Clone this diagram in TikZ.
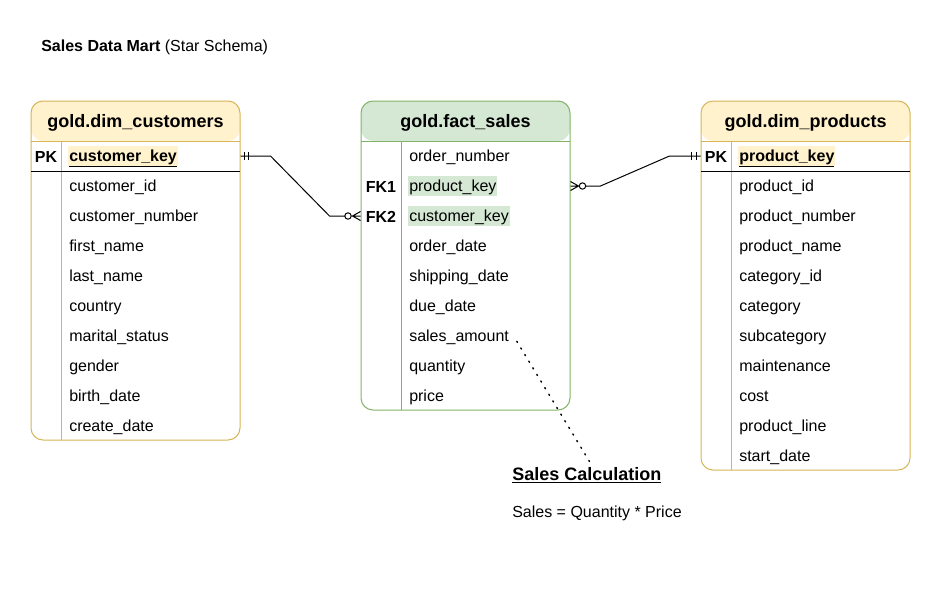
\documentclass[tikz,border=0pt]{standalone}
\usepackage{fontspec}
\setmainfont{Liberation Sans}
\usetikzlibrary{calc, positioning}
\definecolor{dimfill}{HTML}{FFF2CC}
\definecolor{dimline}{HTML}{D6B656}
\definecolor{factfill}{HTML}{D5E8D4}
\definecolor{factline}{HTML}{82B366}
\tikzset{%
    x=0.75pt, y=-0.75pt,
    dimtbl/.style={draw=dimline, line width=0.75pt, rounded corners=9pt, inner sep=0pt,
        path picture={\fill[dimfill] (path picture bounding box.north west) rectangle ([yshift=-30pt]path picture bounding box.north east);}},
    facttbl/.style={dimtbl, draw=factline,
        path picture={\fill[factfill] (path picture bounding box.north west) rectangle ([yshift=-30pt]path picture bounding box.north east);}},
    hdr/.style={font=\fontsize{13.5}{16}\selectfont\bfseries, inner sep=0pt},
    fld/.style={anchor=west, inner xsep=0.75pt, inner ysep=1.5pt, text height=10pt, text depth=2pt, font=\fontsize{12}{14}\selectfont},
    key/.style={font=\fontsize{12}{14}\selectfont\bfseries, inner sep=0pt},
    sep/.style={line width=0.75pt},
    rel/.style={line width=0.75pt},
    note/.style={line width=1.1pt, dash pattern=on 0.9pt off 4.9pt, line cap=round},
}
\begin{document}
\begin{tikzpicture}
    \fill[white] (0,0) rectangle (941,603);
    \useasboundingbox (0,0) rectangle (941,603);
    \node[anchor=west, font=\fontsize{12}{14}\selectfont, inner sep=0pt] (title) at (41,47) {\textbf{Sales Data Mart} (Star Schema)};
    % tables
    \node[dimtbl, minimum width=156.75pt, minimum height=254.25pt] (cust) at (135.5,270.5) {};
    \node[facttbl, minimum width=156.75pt, minimum height=231.75pt] (fact) at (465.5,255.5) {};
    \node[dimtbl, minimum width=156.75pt, minimum height=276.75pt] (prod) at (805.5,285.5) {};
    \draw[sep, dimline] (31,141) -- (240,141) (61,141) -- (61,440);
    \draw[sep, factline] (361,141) -- (570,141) (401,141) -- (401,410);
    \draw[sep, dimline] (701,141) -- (910,141) (731,141) -- (731,470);
    \draw[sep] (31,171) -- (240,171);
    \draw[sep] (701,171) -- (910,171);
    \node[hdr] (custh) at (135.5,123) {gold.dim\_customers};
    \node[hdr] (facth) at (465.5,123) {gold.fact\_sales};
    \node[hdr] (prodh) at (805.5,123) {gold.dim\_products};
    % customers
    \node[key] at (46,156.5) {PK};
    \node[fld, fill=dimfill, font=\fontsize{12}{14}\selectfont\bfseries] (ck) at (68,156) {\underline{customer\_key}};
    \foreach \f [count=\i] in {customer\_id, customer\_number, first\_name, last\_name, country,
        marital\_status, gender, birth\_date, create\_date}
        \node[fld] (c\i) at (68,156+30*\i) {\f};
    % fact
    \node[fld] (f1) at (408,156) {order\_number};
    \node[key] at (381,186.5) {FK1};
    \node[fld, fill=factfill] (fk1) at (408,186) {product\_key};
    \node[key] at (381,216.5) {FK2};
    \node[fld, fill=factfill] (fk2) at (408,216) {customer\_key};
    \foreach \f [count=\i from 4] in {order\_date, shipping\_date, due\_date, sales\_amount, quantity, price}
        \node[fld] (f\i) at (408,126+30*\i) {\f};
    % products
    \node[key] at (716,156.5) {PK};
    \node[fld, fill=dimfill, font=\fontsize{12}{14}\selectfont\bfseries] (pk) at (738,156) {\underline{product\_key}};
    \foreach \f [count=\i] in {product\_id, product\_number, product\_name, category\_id, category,
        subcategory, maintenance, cost, product\_line, start\_date}
        \node[fld] (p\i) at (738,156+30*\i) {\f};
    % relations
    \coordinate (a) at (ck -| cust.east);
    \coordinate (b) at (fk2 -| fact.west);
    \draw[rel] (a) -- ($(a)+(30,0)$) -- ($(b)+(-31,0)$) -- ($(b)+(-15.6,0)$);
    \draw[rel] ($(a)+(4,-4)$) -- ($(a)+(4,4)$) ($(a)+(8,-4)$) -- ($(a)+(8,4)$);
    \draw[rel] ($(b)+(-12.5,0)$) circle[radius=2.4pt];
    \draw[rel] ($(b)+(-8,0)$) -- ($(b)+(0,-4.5)$) ($(b)+(-8,0)$) -- ($(b)+(0,4.5)$) ($(b)+(-9.2,0)$) -- (b);
    \coordinate (p) at (fk1 -| fact.east);
    \coordinate (q) at (pk -| prod.west);
    \draw[rel] ($(p)+(15.2,0)$) -- ($(p)+(30,0)$) -- ($(q)+(-31,0)$) -- (q);
    \draw[rel] ($(q)+(-9,-4)$) -- ($(q)+(-9,4)$) ($(q)+(-4,-4)$) -- ($(q)+(-4,4)$);
    \draw[rel] ($(p)+(12,0)$) circle[radius=2.4pt];
    \draw[rel] ($(p)+(8,0)$) -- ($(p)+(0,-4.5)$) ($(p)+(8,0)$) -- ($(p)+(0,4.5)$) (p) -- ($(p)+(8.8,0)$);
    % note
    \node[hdr, anchor=west] (calc) at (512,475) {\underline{Sales Calculation}};
    \node[fld] (calcf) at (511,512) {Sales = Quantity * Price};
    \draw[note] ([xshift=5pt, yshift=-4pt]f7.east) -- ([xshift=2pt, yshift=4pt]calc.north);
\end{tikzpicture}
\end{document}
